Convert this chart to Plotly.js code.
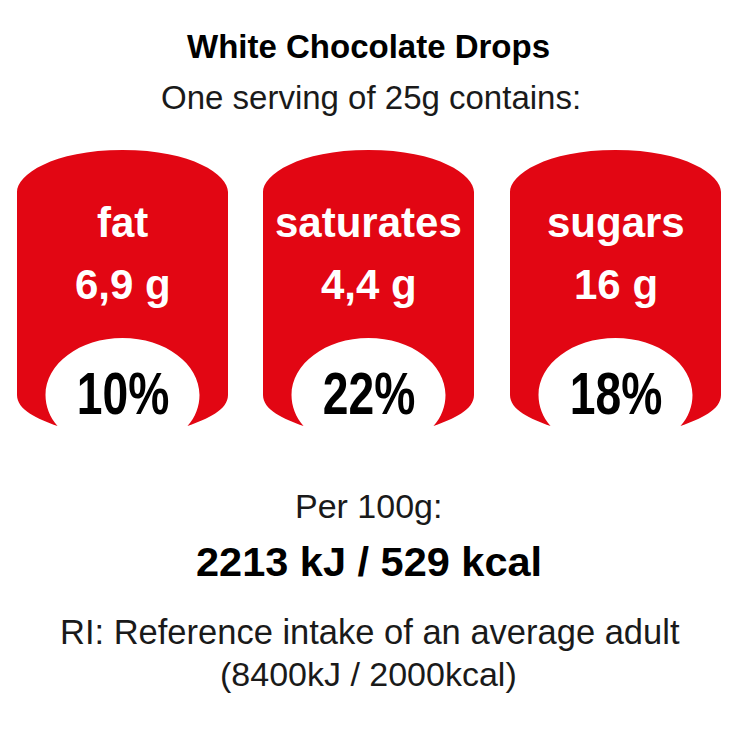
<!DOCTYPE html>
<html><head><meta charset="utf-8">
<script src="https://cdn.plot.ly/plotly-3.0.1.min.js"></script>
<style>html,body{margin:0;padding:0;background:#fff}</style></head>
<body><div id="chart" style="width:730px;height:730px"></div>
<script>
const categories = ["fat", "saturates", "sugars"];
const amounts = ["6,9 g", "4,4 g", "16 g"];
const percents = ["10%", "22%", "18%"];
const titleText = "White Chocolate Drops";
const subtitleText = "One serving of 25g contains:";
const per100Label = "Per 100g:";
const energyText = "2213 kJ / 529 kcal";
const riLine1 = "RI: Reference intake of an average adult";
const riLine2 = "(8400kJ / 2000kcal)";

const RED = "#e20613", F = "Liberation Sans";
const centres = [122.5, 368.5, 615.5];

function padPath(c) {
  const p = (dx, y) => (c + dx) + "," + y;
  return "M" + p(-105.5, 192) +
    " C" + p(-105.5, 175) + " " + p(-70, 150) + " " + p(0, 150) +
    " C" + p(70, 150) + " " + p(105.5, 175) + " " + p(105.5, 192) +
    " L" + p(105.5, 395) +
    " C" + p(105.5, 410) + " " + p(85, 419) + " " + p(65, 426) +
    " C" + p(73, 417) + " " + p(77, 406) + " " + p(77, 395) +
    " C" + p(77, 364) + " " + p(43, 338) + " " + p(0, 338) +
    " C" + p(-43, 338) + " " + p(-77, 364) + " " + p(-77, 395) +
    " C" + p(-77, 406) + " " + p(-73, 417) + " " + p(-65, 426) +
    " C" + p(-85, 419) + " " + p(-105.5, 410) + " " + p(-105.5, 395) + " Z";
}

const shapes = centres.map(c => ({type: "path", xref: "x", yref: "y", path: padPath(c),
  fillcolor: RED, line: {width: 0}, layer: "below"}));

const note = (text, x, y, size, color, bold) => ({
  text: bold ? "<b>" + text + "</b>" : text, x, y, xref: "x", yref: "y",
  xanchor: "center", yanchor: "middle", showarrow: false,
  font: {family: F, size, color}
});

const annotations = [
  note(titleText, 368, 46, 33, "#000", true),
  note(subtitleText, 371, 97, 33, "#1a1a1a", false),
  note(per100Label, 368, 506, 34, "#1a1a1a", false),
  note(energyText, 369, 561, 41.5, "#000", true),
  note(riLine1, 370, 632, 34.5, "#1a1a1a", false),
  note(riLine2, 368, 674, 34, "#1a1a1a", false)
];
categories.forEach((cat, i) => {
  annotations.push(note(cat, centres[i], 222, 42, "#fff", true));
  annotations.push(note(amounts[i], centres[i], 284, 42, "#fff", true));
});
percents.forEach((pct, i) => annotations.push(note(pct, centres[i], 393, 60, "#000", true)));

const axis = {visible: false, fixedrange: true, zeroline: false, showgrid: false};
Plotly.newPlot("chart", [{x: [0, 730], y: [0, 730], mode: "markers", marker: {opacity: 0}, hoverinfo: "skip", showlegend: false}], {
  width: 730, height: 730, margin: {l: 0, r: 0, t: 0, b: 0},
  paper_bgcolor: "#fff", plot_bgcolor: "#fff",
  xaxis: {...axis, range: [0, 730]},
  yaxis: {...axis, range: [730, 0]},
  shapes, annotations, showlegend: false
}, {displayModeBar: false, staticPlot: true}).then(() => {
  document.querySelectorAll("#chart .annotation-text").forEach(t => {
    if (percents.includes(t.textContent)) {
      t.style.transformBox = "fill-box";
      t.style.transformOrigin = "center";
      t.style.transform = "scaleX(0.77)";
    }
  });
});
</script></body></html>
